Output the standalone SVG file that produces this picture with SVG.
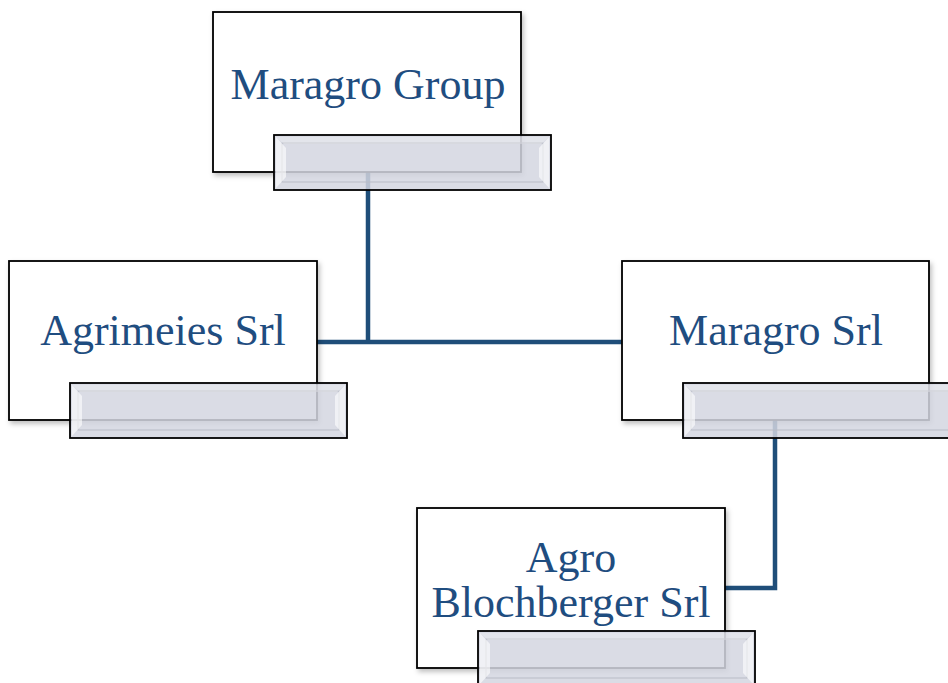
<svg xmlns="http://www.w3.org/2000/svg" width="948" height="683" viewBox="0 0 948 683">
<defs>
<style>
.box{fill:#fff;stroke:#000;stroke-width:1.8}
.bar{fill:#D3D6E0;fill-opacity:0.85;stroke:#000;stroke-width:1.8}
.bev{fill:#fff;fill-opacity:0.6}
.inner{fill:none;stroke:#B9BCC6;stroke-width:1}
.lbl{font-family:"Liberation Serif","Times New Roman",serif;font-size:44px;fill:#1F4D80;text-anchor:middle}
.conn{fill:none;stroke:#1F4E79;stroke-width:4.5}
</style>
<filter id="sh" x="-5%" y="-5%" width="115%" height="120%">
<feDropShadow dx="2" dy="3" stdDeviation="2.5" flood-color="#000" flood-opacity="0.25"/>
</filter>
<g id="barshape">
<rect class="bar" x="0" y="0" width="277" height="55"/>
<rect class="inner" x="8" y="8" width="261" height="39"/>
<polygon class="bev" points="2,2 12,13 12,42 2,53"/>
<polygon class="bev" points="275,2 265,13 265,42 275,53"/>
<polygon points="2,2 275,2 267,9 10,9" fill="#fff" fill-opacity="0.25"/>
</g>
</defs>
<g id="connectors">
<path class="conn" d="M368,172 V342 M317,342 H622"/>
<path class="conn" d="M775,420 V588 H725"/>
</g>
<g id="node-maragro-group">
<rect class="box" x="213" y="12" width="308" height="160" filter="url(#sh)"/>
<text class="lbl" x="368" y="99">Maragro Group</text>
<use href="#barshape" x="274" y="135"/>
</g>
<g id="node-agrimeies">
<rect class="box" x="9" y="261" width="308" height="159" filter="url(#sh)"/>
<text class="lbl" x="163" y="345">Agrimeies Srl</text>
<use href="#barshape" x="70" y="383"/>
</g>
<g id="node-maragro-srl">
<rect class="box" x="622" y="261" width="307" height="159" filter="url(#sh)"/>
<text class="lbl" x="776" y="345">Maragro Srl</text>
<use href="#barshape" x="683" y="383"/>
</g>
<g id="node-agro-blochberger">
<rect class="box" x="417" y="508" width="308" height="160" filter="url(#sh)"/>
<text class="lbl" x="571" y="572">Agro</text>
<text class="lbl" x="571" y="617">Blochberger Srl</text>
<use href="#barshape" x="478" y="631"/>
</g>
</svg>
